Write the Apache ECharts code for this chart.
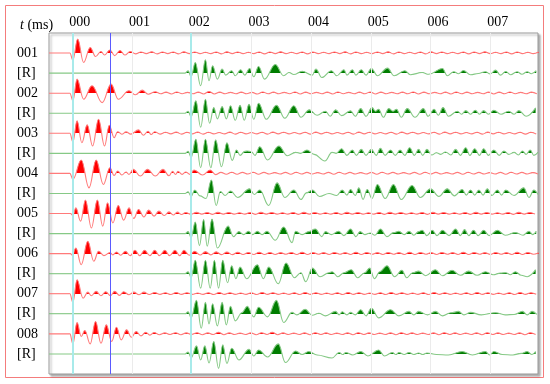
<!DOCTYPE html>
<html><head><meta charset="utf-8">
<script src="https://cdn.jsdelivr.net/npm/echarts@6/dist/echarts.min.js"></script>
<style>html,body{margin:0;padding:0;background:#fff}#c{width:550px;height:384px}</style>
</head><body><div id="c"></div>
<script>
// time axis in hundredths of a label unit, amplitudes in hundredths of the trace spacing
const tickValues = [0,100,200,300,400,500,600,700];
const tickLabels = ['000','001','002','003','004','005','006','007'];
const rowLabels = ['001','[R]','002','[R]','003','[R]','004','[R]','005','[R]','006','[R]','007','[R]','008','[R]'];
const cyanMarks = [0, 198];
const blueMarks = [63];

const obs001 = [[-39,0],[-4,0],[1,-35],[9,70],[19,-47],[30,28],[39,-17],[48,8],[54,-10],[63,15],[71,-13],[80,13],[88,-10],[97,8],
[106,-4],[115,5],[124,-3],[133,6],[142,-4],[151,5],[160,-3],[169,5],[178,-4],[187,6],[196,-3],[205,5],[214,-3],[223,4],[232,-3],[241,5],[250,-4],[259,6],[268,-3],[277,5],[286,-3],[295,4],[304,-3],[313,5],[322,-4],[331,5],[340,-3],[349,6],[358,-3],[367,4],[376,-3],[385,5],[394,-4],[403,5],[412,-3],[421,4],[430,-3],[439,5],[448,-3],[457,6],[466,-4],[475,5],[484,-3],[493,4],[502,-3],[511,5],[520,-3],[529,6],[538,-4],[547,5],[556,-3],[565,4],[574,-3],[583,5],[592,-4],[601,6],[610,-3],[619,5],[628,-3],[637,4],[646,-3],[655,5],[664,-4],[673,5],[682,-3],[691,6],[700,-3],[709,4],[718,-3],[727,5],[736,-4],[745,5],[754,-3],[763,4],[772,-3],[781,5]];
const rec001 = [[-39,0],[189,0],[194,12],[199,-18],[206,53],[215,-63],[223,67],[229,-38],[235,37],[243,-30],[251,20],[257,-10],[267,12],[273,-13],[282,17],[289,-10],[297,23],[304,-18],[312,33],[322,-30],[340,43],[354,-13],[363,3],[371,-7],[385,9],[402,-10],[408,20],[418,-22],[434,12],[443,-13],[455,17],[460,-10],[469,17],[475,-10],[484,17],[492,-10],[501,23],[511,-13],[528,25],[539,-13],[557,12],[566,-8],[586,3],[597,-6],[620,23],[628,-13],[639,7],[647,-3],[655,13],[667,-8],[680,-2],[692,7],[700,-4],[709,15],[717,-10],[726,8],[734,-8],[745,7],[753,-6],[762,7],[769,-3],[777,12]];
const obs002 = [[-39,0],[-4,0],[1,-38],[8,70],[19,-30],[33,37],[50,-47],[65,45],[77,-30],[95,12],[106,-8],[117,15],[127,-5],[139,7],
[148,-3],[157,5],[166,-4],[175,6],[184,-3],[193,4],[202,-3],[211,5],[220,-4],[229,8],[238,-4],[247,5],[256,-3],[265,4],[274,-3],[283,5],[292,-3],[301,4],[310,-4],[319,6],[328,-3],[337,5],[346,-3],[355,4],[364,-3],[373,6],[382,-4],[391,5],[400,-3],[409,4],[418,-3],[427,5],[436,-4],[445,6],[454,-3],[463,4],[472,-3],[481,5],[490,-3],[499,6],[508,-4],[517,5],[526,-3],[535,4],[544,-3],[553,5],[562,-3],[571,6],[580,-4],[589,5],[598,-3],[607,4],[616,-3],[625,5],[634,-4],[643,6],[652,-3],[661,5],[670,-3],[679,4],[688,-3],[697,5],[706,-4],[715,5],[724,-3],[733,6],[742,-3],[751,4],[760,-3],[769,5],[778,-3]];
const rec002 = [[-39,0],[189,0],[194,10],[199,-18],[207,62],[215,-70],[223,70],[230,-50],[237,28],[243,-28],[251,33],[258,-28],[265,37],[273,-35],[281,40],[288,-35],[296,45],[304,-30],[312,50],[325,-30],[342,40],[356,-25],[371,37],[383,-20],[397,17],[410,-10],[424,10],[432,-15],[441,17],[451,-12],[466,12],[474,-15],[483,23],[492,-15],[502,28],[508,10],[513,20],[521,-20],[530,23],[537,10],[543,20],[551,-20],[561,23],[574,-20],[588,23],[596,-15],[606,20],[613,-10],[621,28],[630,-15],[645,10],[652,-5],[659,13],[667,-5],[675,15],[682,-5],[689,13],[697,-5],[706,15],[718,-5],[731,10],[740,-5],[748,13],[760,-15],[776,27]];
const obs003 = [[-39,0],[-4,0],[1,-43],[8,62],[16,-47],[25,42],[34,-63],[44,70],[54,-63],[62,40],[70,-22],[76,8],[83,-5],[90,7],[98,-4],[111,17],[119,-10],[127,10],[132,-6],[138,8],
[147,-4],[156,5],[165,-3],[174,6],[183,-4],[192,5],[201,-3],[210,6],[219,-4],[228,5],[237,-3],[246,4],[255,-3],[264,6],[273,-4],[282,5],[291,-3],[300,4],[309,-3],[318,5],[327,-4],[336,6],[345,-3],[354,5],[363,-3],[372,4],[381,-3],[390,5],[399,-4],[408,6],[417,-3],[426,5],[435,-3],[444,4],[453,-3],[462,5],[471,-4],[480,6],[489,-3],[498,5],[507,-3],[516,4],[525,-3],[534,5],[543,-4],[552,6],[561,-3],[570,5],[579,-3],[588,4],[597,-3],[606,5],[615,-4],[624,6],[633,-3],[642,5],[651,-3],[660,4],[669,-3],[678,5],[687,-4],[696,6],[705,-3],[714,5],[723,-3],[732,4],[741,-3],[750,5],[759,-4],[768,5],[777,-3]];
const rec003 = [[-39,0],[189,0],[194,10],[199,-20],[207,70],[215,-72],[223,70],[232,-72],[240,67],[250,-67],[259,53],[268,-35],[275,17],[281,-10],[289,10],[293,12],[300,8],[306,-10],[314,33],[327,-33],[346,37],[360,-12],[374,5],[382,0],[393,17],[405,-5],[423,-38],[435,5],[442,0],[451,23],[460,-10],[469,17],[476,-10],[484,20],[492,-10],[501,20],[509,-10],[516,25],[524,-10],[533,17],[541,-10],[549,17],[557,-10],[565,28],[573,-10],[580,20],[587,-10],[594,20],[602,-8],[610,3],[617,-5],[625,7],[634,-8],[642,20],[650,-10],[659,28],[666,-10],[674,23],[682,-10],[689,23],[697,-10],[706,17],[715,-10],[723,12],[731,-5],[740,5],[747,-8],[754,12],[760,-5],[767,17],[773,-10],[780,5]];
const obs004 = [[-39,0],[-4,0],[1,-30],[15,67],[28,-72],[40,67],[52,-55],[63,28],[70,-10],[76,12],[83,-8],[90,7],[95,-5],[102,20],[114,-13],[126,20],[139,-13],[152,20],[162,-12],[168,10],[173,-5],[177,10],[184,-5],[190,7],[197,-5],[204,17],[218,-8],[231,17],
[240,-6],[249,5],[258,-4],[267,6],[276,-4],[285,5],[294,-3],[303,6],[312,-4],[321,5],[330,-3],[339,4],[348,-3],[357,5],[366,-4],[375,6],[384,-3],[393,5],[402,-3],[411,4],[420,-3],[429,5],[438,-4],[447,6],[456,-3],[465,5],[474,-3],[483,4],[492,-3],[501,5],[510,-4],[519,6],[528,-3],[537,5],[546,-3],[555,4],[564,-3],[573,5],[582,-4],[591,6],[600,-3],[609,5],[618,-3],[627,4],[636,-3],[645,5],[654,-4],[663,6],[672,-3],[681,5],[690,-3],[699,4],[708,-3],[717,5],[726,-4],[735,6],[744,-3],[753,5],[762,-3],[771,4],[780,-3]];
const rec004 = [[-39,0],[189,0],[194,8],[199,-15],[205,17],[214,-12],[224,-25],[233,67],[241,-60],[248,10],[256,-10],[265,12],[277,-20],[297,23],[305,-5],[314,17],[329,-60],[343,53],[356,-20],[371,17],[383,-30],[392,3],[402,17],[414,-15],[430,0],[443,-10],[452,17],[460,-8],[466,20],[474,-10],[480,28],[487,-30],[494,20],[502,-25],[511,45],[524,-25],[538,45],[551,-30],[569,40],[583,-20],[600,23],[614,-15],[628,23],[640,-12],[653,20],[660,-8],[667,17],[674,-8],[681,17],[688,-8],[695,23],[703,-10],[712,17],[719,-8],[726,17],[740,-10],[756,28],[765,-20],[773,17],[780,-5]];
const obs005 = [[-39,0],[-3,0],[1,-10],[6,28],[14,-38],[22,67],[32,-72],[42,67],[51,-63],[59,53],[68,-47],[77,40],[86,-33],[95,28],[103,-25],[111,20],[120,-17],[128,17],[137,-13],[145,12],[154,-10],[162,8],[169,-7],[176,7],[183,-5],[190,5],
[199,-4],[208,6],[217,-3],[226,5],[235,-4],[244,6],[253,-3],[262,5],[271,-3],[280,4],[289,-3],[298,5],[307,-4],[316,6],[325,-3],[334,5],[343,-3],[352,4],[361,-3],[370,5],[379,-4],[388,6],[397,-3],[406,5],[415,-3],[424,4],[433,-3],[442,5],[451,-4],[460,6],[469,-3],[478,5],[487,-3],[496,4],[505,-3],[514,5],[523,-4],[532,6],[541,-3],[550,5],[559,-3],[568,4],[577,-3],[586,5],[595,-4],[604,6],[613,-3],[622,5],[631,-3],[640,4],[649,-3],[658,5],[667,-4],[676,6],[685,-3],[694,5],[703,-3],[712,4],[721,-3],[730,5],[739,-4],[748,6],[757,-3],[766,5],[775,-3]];
const rec005 = [[-39,0],[189,0],[194,10],[199,-20],[206,58],[213,-60],[220,70],[226,-63],[234,73],[243,-72],[261,37],[270,-15],[279,10],[287,-5],[295,12],[302,-5],[310,12],[318,-5],[326,12],[340,-33],[354,33],[368,-45],[374,12],[385,-5],[396,10],[407,23],[418,-15],[424,10],[434,-5],[446,12],[455,-10],[466,23],[475,-15],[482,10],[490,-5],[499,3],[507,-8],[516,23],[527,-15],[538,5],[547,12],[556,-5],[564,12],[572,-8],[580,10],[586,17],[594,-10],[603,17],[611,-10],[620,17],[631,-10],[642,23],[650,-10],[657,20],[664,-10],[672,17],[680,-10],[689,17],[698,-10],[712,17],[725,-8],[742,5],[755,-8],[765,12],[771,-5],[777,12]];
const obs006 = [[-39,0],[-3,0],[0,-8],[6,28],[15,-55],[26,62],[36,-38],[44,12],[53,-10],[63,5],[68,-6],[74,8],[81,-8],[89,12],[97,-10],[105,17],[113,-10],[121,17],[130,-10],[138,17],[146,-10],[155,17],[163,-10],[172,17],[180,-10],[187,17],
[196,-8],[205,12],[214,-7],[223,10],[232,-6],[241,9],[250,-5],[259,8],[268,-5],[277,7],[286,-4],[295,6],[304,-4],[313,7],[322,-4],[331,6],[340,-4],[349,5],[358,-3],[367,6],[376,-4],[385,7],[394,-4],[403,6],[412,-3],[421,5],[430,-4],[439,6],[448,-3],[457,5],[466,-4],[475,7],[484,-4],[493,6],[502,-3],[511,5],[520,-4],[529,6],[538,-3],[547,5],[556,-4],[565,7],[574,-4],[583,6],[592,-3],[601,5],[610,-4],[619,6],[628,-3],[637,5],[646,-4],[655,7],[664,-4],[673,6],[682,-3],[691,5],[700,-4],[709,6],[718,-3],[727,5],[736,-4],[745,7],[754,-4],[763,6],[772,-3],[781,5]];
const rec006 = [[-39,0],[189,0],[194,10],[199,-20],[206,67],[215,-72],[223,67],[231,-72],[238,67],[245,-72],[252,67],[260,-45],[267,40],[274,-25],[281,33],[292,-25],[310,45],[320,-25],[329,33],[345,-50],[358,53],[372,-20],[383,5],[391,-40],[402,28],[415,-15],[430,5],[435,10],[445,-15],[455,5],[467,20],[478,-20],[490,5],[498,28],[506,-25],[515,10],[527,40],[540,-15],[552,17],[560,-20],[570,5],[580,13],[592,-10],[608,20],[620,-10],[636,17],[650,-8],[664,13],[678,-8],[692,10],[705,-5],[717,3],[726,5],[734,-5],[742,10],[752,-8],[762,-15],[776,20]];
const obs007 = [[-39,0],[-4,0],[1,-43],[8,70],[18,-22],[26,8],[32,-10],[40,12],[48,-10],[56,10],[64,-10],[71,12],[79,-8],[86,10],[95,-5],[103,8],[112,-5],[120,8],
[129,-4],[138,6],[147,-3],[156,5],[165,-4],[174,6],[183,-3],[192,5],[201,-3],[210,4],[219,-3],[228,5],[237,-4],[246,6],[255,-3],[264,5],[273,-3],[282,4],[291,-3],[300,5],[309,-4],[318,6],[327,-3],[336,5],[345,-3],[354,4],[363,-3],[372,5],[381,-4],[390,6],[399,-3],[408,5],[417,-3],[426,4],[435,-3],[444,5],[453,-4],[462,6],[471,-3],[480,5],[489,-3],[498,4],[507,-3],[516,5],[525,-4],[534,6],[543,-3],[552,5],[561,-3],[570,4],[579,-3],[588,5],[597,-4],[606,6],[615,-3],[624,5],[633,-3],[642,4],[651,-3],[660,5],[669,-4],[678,6],[687,-3],[696,5],[705,-3],[714,4],[723,-3],[732,5],[741,-4],[750,6],[759,-3],[768,5],[777,-3]];
const rec007 = [[-39,0],[189,0],[194,10],[199,-20],[208,67],[216,-72],[223,57],[229,-50],[235,50],[243,-60],[251,57],[258,-55],[265,37],[273,-35],[284,5],[293,37],[304,-15],[312,33],[327,-15],[342,67],[354,-43],[368,7],[376,-5],[390,23],[402,-7],[413,3],[424,-10],[441,12],[447,-5],[452,10],[460,-5],[466,7],[474,-5],[483,20],[492,-10],[501,28],[513,-20],[533,20],[547,-10],[564,12],[572,-5],[580,12],[595,-5],[608,12],[620,-10],[634,5],[647,12],[656,-5],[667,7],[685,-5],[709,5],[725,-5],[740,-3],[754,12],[762,-5],[770,12],[778,-3]];
const obs008 = [[-39,0],[-4,0],[1,-50],[8,57],[15,-13],[21,17],[30,-50],[39,62],[48,-47],[57,45],[66,-38],[74,33],[82,-30],[91,20],[99,-17],[107,12],[115,-10],[123,8],[130,-6],[137,7],
[146,-4],[155,5],[164,-3],[173,6],[182,-4],[191,5],[200,-3],[209,6],[218,-4],[227,5],[236,-3],[245,8],[254,-4],[263,5],[272,-3],[281,4],[290,-3],[299,5],[308,-4],[317,6],[326,-3],[335,8],[344,-4],[353,5],[362,-3],[371,4],[380,-3],[389,5],[398,-4],[407,6],[416,-3],[425,5],[434,-3],[443,4],[452,-3],[461,5],[470,-4],[479,6],[488,-3],[497,5],[506,-3],[515,4],[524,-3],[533,5],[542,-4],[551,6],[560,-3],[569,5],[578,-3],[587,4],[596,-3],[605,5],[614,-4],[623,6],[632,-3],[641,5],[650,-3],[659,4],[668,-3],[677,5],[686,-4],[695,6],[704,-3],[713,5],[722,-3],[731,4],[740,-3],[749,5],[758,-4],[767,6],[776,-3]];
const rec008 = [[-39,0],[189,0],[194,10],[199,-20],[208,40],[215,-30],[222,40],[229,-45],[237,62],[245,-72],[252,45],[259,-47],[267,28],[279,-30],[296,23],[304,-10],[312,20],[327,-15],[345,50],[357,-43],[374,15],[385,-3],[396,12],[410,-5],[435,-20],[447,7],[453,-3],[458,7],[470,-5],[483,12],[495,-10],[513,20],[523,-10],[536,7],[542,-3],[547,7],[556,-3],[564,7],[572,-3],[580,5],[587,-3],[594,5],[610,-3],[630,-5],[653,12],[670,-5],[692,12],[699,-5],[706,12],[720,-3],[738,-5],[752,3],[762,12],[770,-3],[776,12]];

const traces = [obs001,rec001,obs002,rec002,obs003,rec003,obs004,rec004,obs005,rec005,obs006,rec006,obs007,rec007,obs008,rec008];

const chart = echarts.init(document.getElementById('c'), null, {renderer: 'canvas'});
const FONT = 'Liberation Serif';
const series = [];
const visualMaps = [];

series.push({
  type: 'line', data: [], z: 1, silent: true,
  markLine: {
    silent: true, symbol: ['none','none'], label: {show: false},
    data: [
      ...tickValues.map(v => ({xAxis: v, lineStyle: {color: '#ebebeb', width: 1, type: 'solid'}})),
      ...cyanMarks.map(v => ({xAxis: v, lineStyle: {color: '#a8eaea', width: 2, type: 'solid'}})),
      ...blueMarks.map(v => ({xAxis: v, lineStyle: {color: '#5a5aff', width: 1, type: 'solid'}}))
    ]
  }
});

traces.forEach((tr, i) => {
  const base = 1600 - 100 * i;
  const isRec = i % 2 === 1;
  series.push({
    type: 'line',
    name: rowLabels[i],
    data: tr.map(p => [p[0], base + p[1]]),
    symbol: 'none',
    smooth: 0.4,
    smoothMonotone: 'x',
    z: 3,
    silent: true,
    lineStyle: {color: isRec ? '#86c986' : '#ff7a7a', width: 1.1},
    areaStyle: {opacity: 1}
  });
  visualMaps.push({
    type: 'piecewise', show: false, seriesIndex: i + 1, dimension: 1,
    pieces: [
      {gt: base, lte: 1800, color: isRec ? '#007d00' : '#ff0000'},
      {gte: -100, lte: base, color: 'rgba(255,255,255,0)'}
    ],
    outOfRange: {color: 'rgba(255,255,255,0)'}
  });
});

chart.setOption({
  animation: false,
  backgroundColor: '#ffffff',
  title: {
    text: '{i|t} (ms)', left: 15, top: 13,
    textStyle: {fontFamily: FONT, fontSize: 14, fontWeight: 'normal', color: '#000',
      rich: {i: {fontFamily: FONT, fontSize: 14, fontStyle: 'italic', color: '#000'}}}
  },
  graphic: [{
    type: 'rect', silent: true, z: -1,
    shape: {x: 5.5, y: 5.5, width: 538, height: 372},
    style: {fill: 'none', stroke: '#f47c7c', lineWidth: 1}
  }],
  grid: {
    left: 49, top: 33, width: 489, height: 341, show: true,
    borderColor: '#999', borderWidth: 1, backgroundColor: '#fff',
    shadowColor: 'rgba(0,0,0,0.3)', shadowBlur: 2, shadowOffsetX: 2, shadowOffsetY: 2
  },
  xAxis: {
    type: 'value', position: 'top', min: -39, max: 780,
    axisLine: {show: false}, axisTick: {show: false}, splitLine: {show: false},
    axisLabel: {
      customValues: tickValues,
      formatter: v => tickLabels[tickValues.indexOf(v)],
      fontFamily: FONT, fontSize: 14, color: '#000', margin: 4, padding: [0,0,0,15]
    }
  },
  yAxis: {
    type: 'value', min: 0, max: 1700, interval: 100,
    axisLine: {show: false}, axisTick: {show: false}, splitLine: {show: false},
    axisLabel: {
      formatter: v => (v >= 100 && v <= 1600) ? rowLabels[(1600 - v) / 100] : '',
      fontFamily: FONT, fontSize: 14, color: '#000', align: 'left', margin: 32,
      padding: [0,0,7,0]
    }
  },
  visualMap: visualMaps,
  series: series
});
</script>
</body></html>
